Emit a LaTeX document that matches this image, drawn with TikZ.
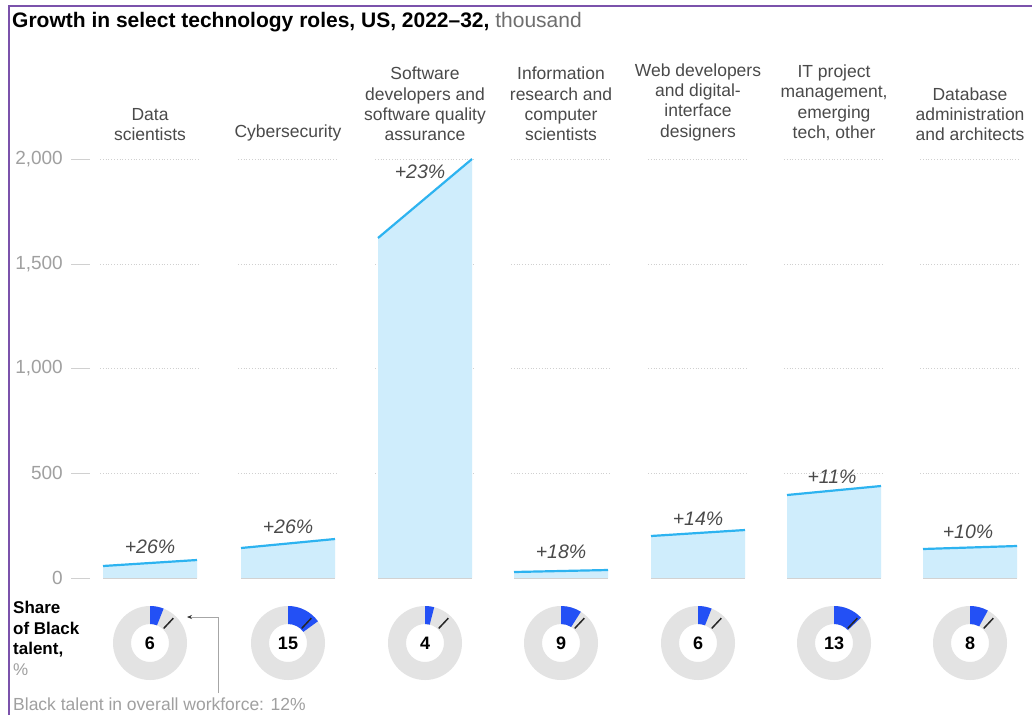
\documentclass[tikz,border=0pt]{standalone}
\usepackage{fontspec}
\setmainfont{Liberation Sans}
\usetikzlibrary{arrows.meta,calc}
\definecolor{barfill}{HTML}{CFEDFC}
\definecolor{barline}{HTML}{2DB3F0}
\definecolor{donutblue}{HTML}{2350F5}
\definecolor{ringgray}{HTML}{E3E3E3}
\definecolor{frame}{HTML}{7B52AB}
\definecolor{headtext}{HTML}{4A4A4A}
\definecolor{ticktext}{HTML}{A0A0A0}
\definecolor{gridgray}{HTML}{D0D0D0}
\tikzset{
  header/.style={anchor=south, align=center, text=headtext, inner sep=0pt,
    font=\fontsize{17.5}{20.3}\selectfont},
  ticklabel/.style={anchor=east, text=ticktext, inner sep=0pt, font=\fontsize{19}{20}\selectfont},
  pctlabel/.style={text=headtext, inner sep=0pt, font=\fontsize{19.5}{20}\selectfont\itshape},
  numlabel/.style={text=black, inner sep=0pt, font=\fontsize{18}{20}\selectfont\bfseries},
  gridline/.style={gridgray, dotted, line width=0.8pt},
  tickdash/.style={gridgray, line width=0.8pt},
}
\begin{document}
\begin{tikzpicture}[x=1pt,y=-1pt]
\useasboundingbox (0,0) rectangle (1032,715);
\fill[white] (0,0) rectangle (1032,715);
% frame
\draw[frame, line width=2pt] (9,715) -- (9,6) -- (1032,6);
% title
\node[anchor=base west, inner sep=0pt, font=\fontsize{21}{24}\selectfont] (title) at (12,27)
  {\textbf{Growth in select technology roles, US, 2022--32,} \textcolor{headtext!80}{thousand}};
% y axis
\foreach \lab/\yy/\nm in {2{,}000/159/a, 1{,}500/264/b, 1{,}000/368/c, 500/473/d, 0/578/e}{
  \node[ticklabel] (yl\nm) at (63,\yy) {\lab};
  \coordinate (ts\nm) at (71,\yy);
  \coordinate (te\nm) at (90,\yy);
  \draw[tickdash] (ts\nm) -- (te\nm);
}
% headers
\node[header] (h1) at (150,141) {Data\\scientists};
\node[header] (h2) at (288,141) {Cybersecurity};
\node[header] (h3) at (425,141) {Software\\developers and\\software quality\\assurance};
\node[header] (h4) at (561,141) {Information\\research and\\computer\\scientists};
\node[header] (h5) at (698,141) {Web developers\\and digital-\\interface\\designers};
\node[header] (h6) at (834,141) {IT project\\management,\\emerging\\tech, other};
\node[header] (h7) at (970,141) {Database\\administration\\and architects};
% columns
\foreach \i/\cx/\ya/\yb/\p/\px/\py/\v in {
  1/150/566/560/+26/150/547/6,
  2/288/548/539/+26/288/527/15,
  3/425/238/159/+23/420/172/4,
  4/561/572/570/+18/561/552/9,
  5/698/536/530/+14/698/519/6,
  6/834/495/486/+11/832/477/13,
  7/970/549/546/+10/968/532/8}{
  \foreach \gy in {159,264,368,473}{
    \draw[gridline] (\cx-50,\gy) -- (\cx+50,\gy);
  }
  \coordinate (bs\i) at (\cx-47,\ya);
  \coordinate (be\i) at (\cx+47,\yb);
  \coordinate (bl\i) at (\cx-47,578);
  \coordinate (br\i) at (\cx+47,578);
  \fill[barfill] (bl\i) -- (bs\i) -- (be\i) -- (br\i) -- cycle;
  \draw[gray!35, line width=0.8pt] (bl\i) -- (br\i);
  \draw[barline, line width=2.2pt] (bs\i) -- (be\i);
  \node[pctlabel] (p\i) at (\px,\py) {\p\%};
  % donut
  \coordinate (d\i) at (\cx,643);
  \fill[ringgray, even odd rule] (d\i) circle[radius=37] (d\i) circle[radius=19];
  \fill[donutblue] ($(d\i)+(-90:37)$) arc[start angle=-90, end angle={-90+3.6*\v}, radius=37]
     -- ($(d\i)+({-90+3.6*\v}:19)$) arc[start angle={-90+3.6*\v}, end angle=-90, radius=19] -- cycle;
  \coordinate (tk1\i) at ($(d\i)+(-46.8:20)$);
  \coordinate (tk2\i) at ($(d\i)+(-46.8:34)$);
  \draw[black!85, line width=1.5pt] (tk1\i) -- (tk2\i);
  \node[numlabel] (n\i) at (d\i) {\v};
}
% left label
\node[anchor=north west, align=left, inner sep=0pt, font=\fontsize{17}{20.5}\selectfont\bfseries] (share) at (13,601)
  {Share\\of Black\\talent,\\{\mdseries\color{ticktext}\%}};
% arrow
\coordinate (arrS) at (218,693);
\coordinate (arrE) at (187,617);
\draw[gray!70, line width=0.8pt, -{Stealth[length=5pt,width=4pt,black!80]}] (arrS) |- (arrE);
% bottom note
\node[anchor=base west, inner sep=0pt, text=ticktext, font=\fontsize{17.5}{20}\selectfont] (note) at (13,710)
  {Black talent in overall workforce: 12\%};
\end{tikzpicture}
\end{document}
